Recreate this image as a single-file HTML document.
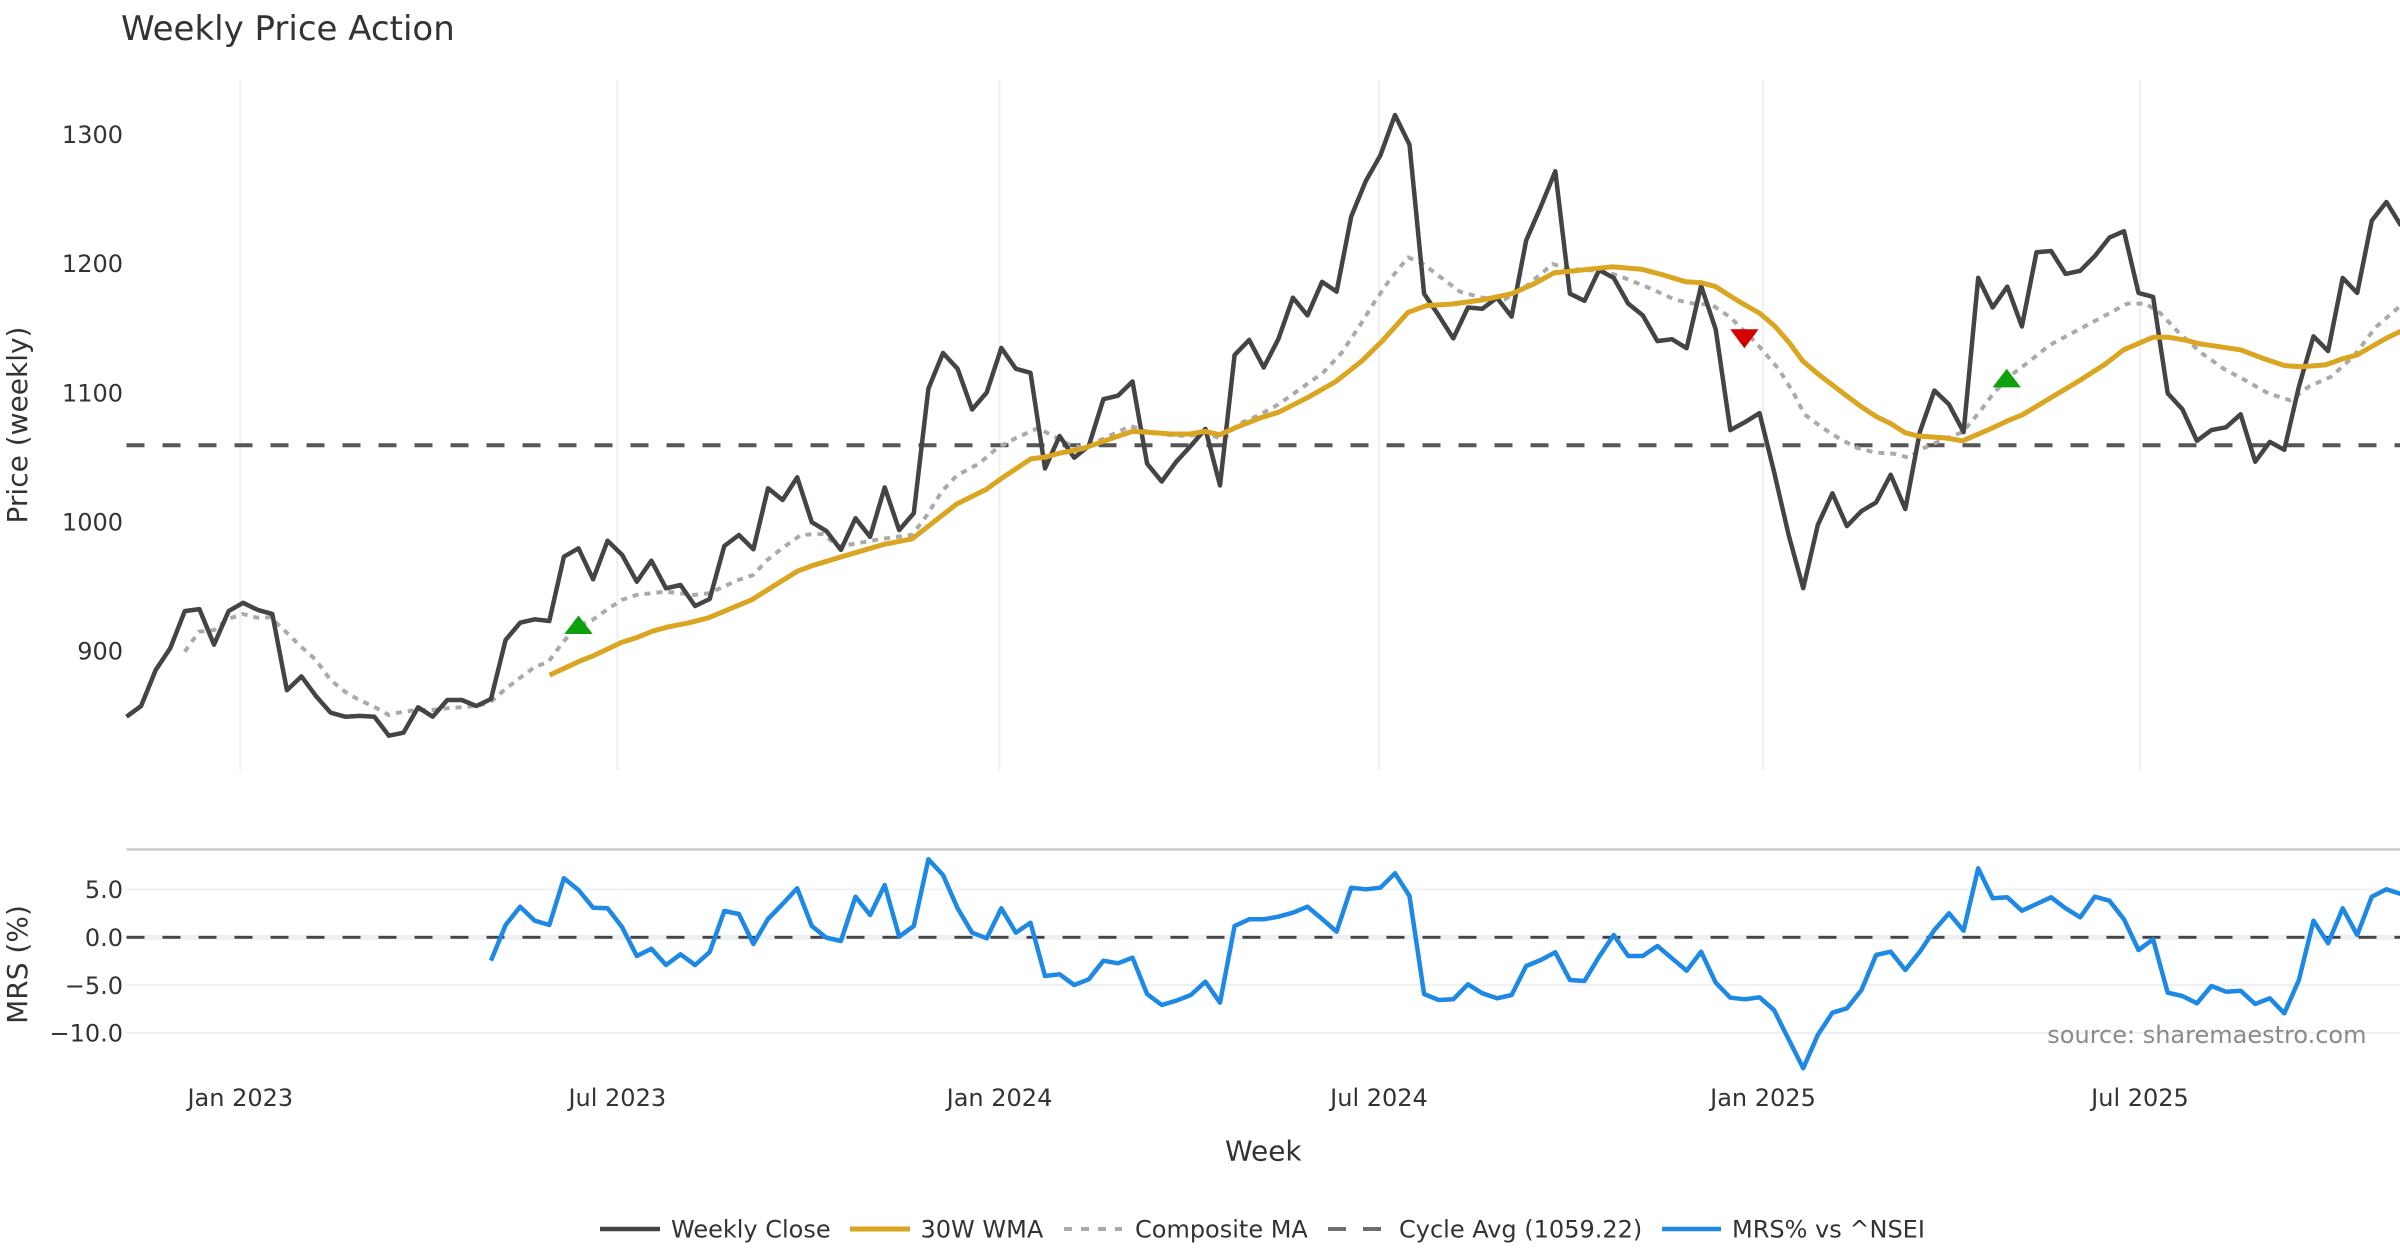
<!DOCTYPE html>
<html>
<head>
<meta charset="utf-8">
<style>
html,body{margin:0;padding:0;background:#fff;}
svg{display:block;}
text{font-family:"DejaVu Sans","Liberation Sans",sans-serif;}
</style>
</head>
<body>
<svg width="2400" height="1260" viewBox="0 0 2400 1260" xmlns="http://www.w3.org/2000/svg">
<rect x="0" y="0" width="2400" height="1260" fill="#ffffff"/>

<!-- Title -->
<text x="121" y="40" font-size="34" fill="#333333">Weekly Price Action</text>

<!-- Top panel vertical gridlines -->
<g stroke="#eef0f4" stroke-width="2">
<line x1="240.3" y1="80" x2="240.3" y2="770"/>
<line x1="617.3" y1="80" x2="617.3" y2="770"/>
<line x1="999.5" y1="80" x2="999.5" y2="770"/>
<line x1="1379" y1="80" x2="1379" y2="770"/>
<line x1="1763" y1="80" x2="1763" y2="770"/>
<line x1="2140" y1="80" x2="2140" y2="770"/>
</g>

<!-- Top panel y tick labels -->
<g font-size="24" fill="#333333" text-anchor="end">
<text x="123" y="143">1300</text>
<text x="123" y="272.2">1200</text>
<text x="123" y="401.4">1100</text>
<text x="123" y="530.5">1000</text>
<text x="123" y="659.7">900</text>
</g>

<!-- Axis titles -->
<text transform="translate(27,425) rotate(-90)" font-size="28" fill="#333333" text-anchor="middle">Price (weekly)</text>
<text transform="translate(27,964.5) rotate(-90)" font-size="28" fill="#333333" text-anchor="middle">MRS (%)</text>
<text x="1263.3" y="1160.5" font-size="28" fill="#333333" text-anchor="middle">Week</text>

<!-- Cycle avg dashed line -->
<line x1="126.5" y1="445.3" x2="2400" y2="445.3" stroke="#555555" stroke-width="4" stroke-dasharray="18,18"/>

<!-- Composite MA (dotted) -->
<polyline fill="none" stroke="#aaaaaa" stroke-width="4" stroke-dasharray="6,6" stroke-linejoin="round" points="184.7,651.7 199,631.7 214.3,630 228.1,619 242.9,614 257.1,617.7 270.4,617.3 285.7,631.7 301,646.7 315.3,659.3 330.6,680 344.9,691.7 359.2,700 374,706.7 388.8,715 403.1,711.7 417.3,710 432.1,710 446.9,708.3 460.7,707.3 475.5,706 489.8,702.7 505.1,689.3 519.4,678.3 534.2,667.3 548.5,661.7 563.3,641.7 578.1,626 592.3,620 606.6,610 621.4,600 636.2,595 650.5,593.3 665.3,591.7 680.1,593.3 693.9,595 709.2,593.3 723.5,586.7 738.3,580 753.1,575 767.3,560 782.1,548.3 801.1,534.8 823.3,534 838.1,546.7 860.4,542.7 882.6,538.8 912.2,534.8 927,515.1 941.9,491.3 956.7,475.5 978.9,463.7 997.4,447.9 1015.9,438 1038.1,428.1 1053,436 1067.8,443.9 1082.6,447.9 1104.8,438 1130.7,426.1 1145.6,431.3 1171.5,435.2 1190,436 1204.8,432.1 1223.3,440 1238.1,424.1 1256.7,416.2 1278.5,404.4 1300.7,388.6 1323,372.8 1341.5,353 1360,325.3 1374.8,301.6 1389.6,279.9 1408.1,257.3 1423,264 1441.5,277.9 1460,291.7 1482.2,297.7 1504.4,299.6 1526.7,285.8 1552.6,264 1571.1,269.2 1600.7,270.8 1619.3,275.9 1648.9,287.8 1674.8,299.6 1693.3,303.6 1711.9,304.8 1730.4,317.4 1756.3,343.1 1778.5,368.8 1793.3,392.5 1804.4,414.3 1822.9,428.1 1838.5,438 1857,447.9 1875.6,452.6 1894.1,453.8 1908.9,457.7 1920,449.8 1942.2,440 1962.6,432.1 1979.3,412.3 1994.1,392.5 2008.9,376.7 2027.4,362.9 2049.6,345.1 2071.9,333.2 2094.1,321.4 2116.3,309.5 2127.4,303.6 2145.9,303.6 2160.7,313.5 2179.3,333.2 2201.5,353 2223.7,368.8 2246,380.7 2268.1,393.3 2290.4,400.4 2308.9,386.6 2331.1,376.7 2353.3,356.9 2375.6,327.3 2400.7,305.6"/>

<!-- Weekly Close -->
<polyline fill="none" stroke="#444444" stroke-width="4.5" stroke-linejoin="round" points="126.5,716.7 141.1,706.0 155.7,670.0 170.2,648.3 184.8,611.1 199.4,609.1 214.0,644.7 228.6,611.1 243.1,602.8 257.7,609.9 272.3,613.9 286.9,690.2 301.5,676.4 316.0,696.1 330.6,712.7 345.2,716.7 359.8,715.9 374.4,716.7 388.9,735.7 403.5,732.7 418.1,707.3 432.7,716.7 447.3,700 461.8,700 476.4,706 491.0,699 505.6,640 520.2,622.7 534.7,619.3 549.3,621 563.9,556.7 578.5,548.3 593.1,579.3 607.6,540.7 622.2,555 636.8,581.7 651.4,560.7 666.0,588.3 680.5,585 695.1,606 709.7,599 724.3,546 738.9,535 753.4,549.3 768.0,488.3 782.6,500 797.2,477.3 811.8,522.2 826.3,530.9 840.9,549.9 855.5,518.2 870.1,536.8 884.7,487.4 899.2,530.1 913.8,513.1 928.4,388.6 943.0,353.0 957.6,368.8 972.1,409.5 986.7,392.5 1001.3,347.9 1015.9,368.8 1030.5,372.8 1045.0,468.4 1059.6,436.0 1074.2,457.7 1088.8,445.9 1103.4,399.2 1117.9,395.7 1132.5,381.5 1147.1,463.7 1161.7,481.5 1176.3,461.7 1190.8,445.9 1205.4,428.9 1220.0,485.4 1234.6,355.0 1249.2,339.9 1263.7,367.5 1278.3,339.2 1292.9,297.7 1307.5,315.4 1322.1,281.8 1336.6,291.7 1351.2,216.6 1365.8,181.0 1380.4,155.3 1395.0,115.0 1409.5,144.7 1424.1,293.7 1438.7,315.4 1453.3,338.4 1467.9,307.5 1482.4,308.7 1497.0,297.7 1511.6,316.6 1526.2,240.3 1540.8,206.7 1555.3,171.2 1569.9,293.7 1584.5,300.8 1599.1,270.0 1613.7,277.9 1628.2,303.6 1642.8,315.4 1657.4,341.1 1672.0,339.2 1686.6,348.2 1701.1,285.8 1715.7,329.3 1730.3,430.1 1744.9,422.2 1759.5,413.1 1774.0,471.6 1788.6,534.8 1803.2,588.2 1817.8,525.0 1832.4,493.3 1846.9,526.1 1861.5,511.1 1876.1,502.4 1890.7,474.7 1905.3,509.1 1919.8,432.1 1934.4,390.5 1949.0,404.4 1963.6,432.1 1978.2,277.9 1992.7,307.5 2007.3,286.6 2021.9,326.5 2036.5,252.2 2051.1,251.0 2065.6,273.9 2080.2,270.8 2094.8,256.1 2109.4,237.6 2124.0,231.2 2138.5,292.9 2153.1,296.9 2167.7,393.3 2182.3,409.1 2196.9,440.8 2211.4,430.1 2226.0,427.3 2240.6,414.3 2255.2,461.7 2269.8,441.9 2284.3,449.8 2298.9,386.6 2313.5,336.4 2328.1,351.0 2342.7,277.9 2357.2,292.9 2371.8,220.6 2386.4,202.0 2401.0,225.7"/>

<!-- 30W WMA -->
<polyline fill="none" stroke="#daa520" stroke-width="5" stroke-linejoin="round" points="549.6,675.1 579.3,661.3 594.1,655.4 621.9,642.3 636.7,637.6 653.3,630.9 668.1,626.9 690,622.6 708.5,617.8 751.1,600.1 797.4,571.2 812.2,565.7 838.1,557.8 882.6,544.7 912.2,538.8 956.7,504 986.3,489.4 1001.1,478.7 1030.7,458.9 1045.6,457 1060.4,453 1082.6,448.7 1104.8,440.8 1132.6,431.3 1145.6,432.1 1171.5,434 1190,434 1204.8,431.3 1219.6,434.8 1234.4,428.1 1260,418 1278.5,412.3 1308.1,397.3 1335.9,381.5 1361.9,360.9 1382.2,341.1 1408.1,312.3 1426.7,305.6 1452.6,304 1482.2,300 1511.9,293.7 1534.1,283.8 1554.4,272.7 1574.8,270.8 1611.9,266.8 1641.5,269.2 1663.7,275.1 1685.9,281.8 1700.7,282.6 1715.6,286.6 1737.8,300.8 1760,313.5 1774.8,326.1 1789.6,343.1 1802.6,360.9 1817.4,373.5 1842.2,392.5 1860.7,406.4 1875.6,416.2 1890.4,423.4 1905.2,432.8 1918.1,436 1945.9,438 1962.6,440.8 1990.4,428.9 2008.9,420.2 2021.9,415.1 2049.6,398.5 2079.3,380.7 2105.2,364.1 2123.7,349.8 2153.3,337.2 2168.1,337.2 2186.7,340.3 2197.8,343.5 2240.4,349.8 2264.4,358.9 2284.8,365.6 2301.5,366.8 2325.6,364.9 2342.2,358.9 2357,355 2386.7,338 2400.7,331.3"/>

<!-- Markers -->
<polygon points="578.5,615.5 564.3,634 592.7,634" fill="#0fa00f"/>
<polygon points="1730.2,329.3 1758.6,329.3 1744.4,348.2" fill="#d40000"/>
<polygon points="2006.7,368.8 1992.5,387.4 2020.9,387.4" fill="#0fa00f"/>

<!-- MRS panel -->
<line x1="126.5" y1="849.5" x2="2400" y2="849.5" stroke="#cccccc" stroke-width="2.5"/>
<g stroke="#eef0f4" stroke-width="2">
<line x1="126.5" y1="889.5" x2="2400" y2="889.5"/>
<line x1="126.5" y1="937.3" x2="2400" y2="937.3" stroke-width="5"/>
<line x1="126.5" y1="985.1" x2="2400" y2="985.1"/>
<line x1="126.5" y1="1033" x2="2400" y2="1033"/>
</g>
<g font-size="24" fill="#333333" text-anchor="end">
<text x="123" y="898.2">5.0</text>
<text x="123" y="946">0.0</text>
<text x="123" y="993.8">−5.0</text>
<text x="123" y="1041.7">−10.0</text>
</g>
<line x1="126.5" y1="937.3" x2="2400" y2="937.3" stroke="#444444" stroke-width="2.8" stroke-dasharray="18,18"/>

<polyline fill="none" stroke="#1e88e5" stroke-width="4.5" stroke-linejoin="round" points="491.0,960.7 505.6,925 520.2,906.7 534.7,920.7 549.3,925 563.9,878.3 578.5,890 593.1,907.7 607.6,908.3 622.2,927.3 636.8,956 651.4,948.7 666.0,965 680.5,954.3 695.1,965 709.7,952 724.3,911 738.9,914 753.4,944 768.0,919 782.6,904 797.2,888.3 811.8,926 826.3,937.7 840.9,941 855.5,896.7 870.1,915 884.7,885 899.2,936.7 913.8,926 928.4,859.3 943.0,875 957.6,908.3 972.1,932.7 986.7,938.3 1001.3,908.3 1015.9,932.7 1030.5,922.7 1045.0,976 1059.6,974.3 1074.2,985 1088.8,979.3 1103.4,960.7 1117.9,963.3 1132.5,957.7 1147.1,994 1161.7,1005 1176.3,1000.7 1190.8,995 1205.4,981.7 1220.0,1002.7 1234.6,926 1249.2,919.3 1263.7,919.3 1278.3,916.7 1292.9,912.7 1307.5,906.7 1322.1,919 1336.6,931.7 1351.2,887.7 1365.8,889.3 1380.4,887.7 1395.0,873.3 1409.5,896 1424.1,994 1438.7,1000 1453.3,999.3 1467.9,984.3 1482.4,993.3 1497.0,998.3 1511.6,995 1526.2,966 1540.8,960 1555.3,952.3 1569.9,980 1584.5,981 1599.1,956.7 1613.7,935 1628.2,956 1642.8,956 1657.4,946 1672.0,958.3 1686.6,970.7 1701.1,951.7 1715.7,982.7 1730.3,997.7 1744.9,999.3 1759.5,997.3 1774.0,1010 1788.6,1039.3 1803.2,1068.3 1817.8,1035 1832.4,1012.7 1846.9,1008.3 1861.5,990 1876.1,955 1890.7,951.7 1905.3,970 1919.8,951.7 1934.4,930 1949.0,913.3 1963.6,930.7 1978.2,868.3 1992.7,898.3 2007.3,897.3 2021.9,910.7 2036.5,904 2051.1,897.3 2065.6,908.3 2080.2,917.3 2094.8,896.7 2109.4,900.7 2124.0,919.3 2138.5,950 2153.1,939.3 2167.7,992.7 2182.3,996 2196.9,1003.3 2211.4,986 2226.0,991.7 2240.6,990.7 2255.2,1004 2269.8,998.3 2284.3,1013.3 2298.9,980 2313.5,920.7 2328.1,943.3 2342.7,908.3 2357.2,935 2371.8,896.7 2386.4,889.3 2401.0,894"/>

<text x="2366.5" y="1043" font-size="24" fill="#8a8a8a" text-anchor="end">source: sharemaestro.com</text>

<!-- X tick labels -->
<g font-size="24" fill="#333333" text-anchor="middle">
<text x="240.3" y="1106">Jan 2023</text>
<text x="617.3" y="1106">Jul 2023</text>
<text x="999.5" y="1106">Jan 2024</text>
<text x="1379" y="1106">Jul 2024</text>
<text x="1763" y="1106">Jan 2025</text>
<text x="2140" y="1106">Jul 2025</text>
</g>

<!-- Legend -->
<line x1="600" y1="1229" x2="660" y2="1229" stroke="#444444" stroke-width="4.5"/>
<text x="671" y="1237.5" font-size="24" fill="#333333">Weekly Close</text>
<line x1="850" y1="1229" x2="910" y2="1229" stroke="#daa520" stroke-width="5"/>
<text x="920.5" y="1237.5" font-size="24" fill="#333333">30W WMA</text>
<line x1="1064" y1="1229" x2="1122" y2="1229" stroke="#aaaaaa" stroke-width="4" stroke-dasharray="8,9"/>
<text x="1135" y="1237.5" font-size="24" fill="#333333">Composite MA</text>
<line x1="1328" y1="1229" x2="1388" y2="1229" stroke="#6e6e6e" stroke-width="4" stroke-dasharray="18,17"/>
<text x="1399" y="1237.5" font-size="24" fill="#333333">Cycle Avg (1059.22)</text>
<line x1="1662" y1="1229" x2="1721" y2="1229" stroke="#1e88e5" stroke-width="4.5"/>
<text x="1732" y="1237.5" font-size="24" fill="#333333">MRS% vs ^NSEI</text>
</svg>
</body>
</html>
